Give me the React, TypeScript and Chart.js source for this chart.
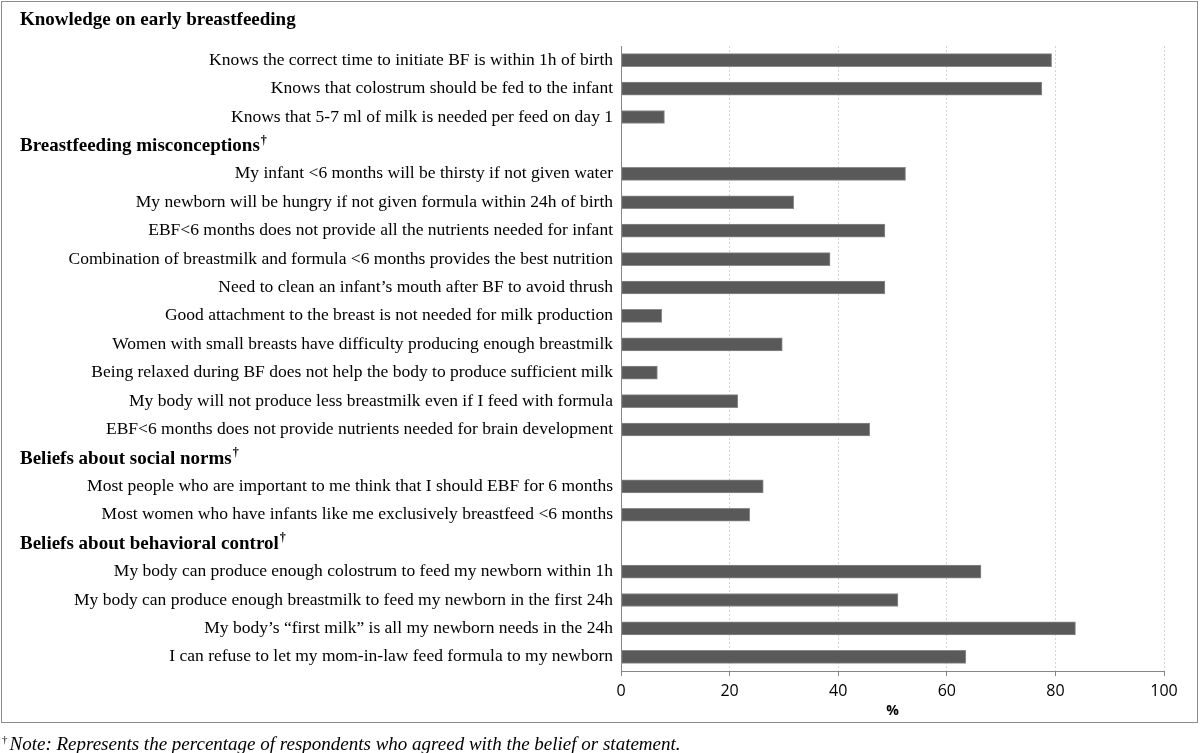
import React, { useEffect, useRef } from "react";
import { Chart, registerables } from "chart.js";

Chart.register(...registerables);

const sectionTitles = [
  "Knowledge on early breastfeeding",
  "Breastfeeding misconceptions",
  "Beliefs about social norms",
  "Beliefs about behavioral control",
];
const sectionDagger = [false, true, true, true];

const knowledgeItems = [
  "Knows the correct time to initiate BF is within 1h of birth",
  "Knows that colostrum should be fed to the infant",
  "Knows that 5-7 ml of milk is needed per feed on day 1",
];
const knowledgeValues = [79.3, 77.5, 8.0];

const misconceptionItems = [
  "My infant <6 months will be thirsty if not given water",
  "My newborn will be hungry if not given formula within 24h of birth",
  "EBF<6 months does not provide all the nutrients needed for infant",
  "Combination of breastmilk and formula <6 months provides the best nutrition",
  "Need to clean an infant\u2019s mouth after BF to avoid thrush",
  "Good attachment to the breast is not needed for milk production",
  "Women with small breasts have difficulty producing enough breastmilk",
  "Being relaxed during BF does not help the body to produce sufficient milk",
  "My body will not produce less breastmilk even if I feed with formula",
  "EBF<6 months does not provide nutrients needed for brain development",
];
const misconceptionValues = [52.4, 31.8, 48.6, 38.5, 48.6, 7.5, 29.7, 6.7, 21.5, 45.8];

const socialItems = [
  "Most people who are important to me think that I should EBF for 6 months",
  "Most women who have infants like me exclusively breastfeed <6 months",
];
const socialValues = [26.2, 23.7];

const controlItems = [
  "My body can produce enough colostrum to feed my newborn within 1h",
  "My body can produce enough breastmilk to feed my newborn in the first 24h",
  "My body\u2019s \u201cfirst milk\u201d is all my newborn needs in the 24h",
  "I can refuse to let my mom-in-law feed formula to my newborn",
];
const controlValues = [66.3, 51.0, 83.7, 63.5];

const xTicks = [0, 20, 40, 60, 80, 100];
const xTitle = "%";
const footnote = "Note: Represents the percentage of respondents who agreed with the belief or statement.";

const sections = [
  { items: knowledgeItems, values: knowledgeValues },
  { items: misconceptionItems, values: misconceptionValues },
  { items: socialItems, values: socialValues },
  { items: controlItems, values: controlValues },
];

// Build rows: section 0 header sits above the plot; later headers take a blank row.
const labels: string[] = [];
const values: (number | null)[] = [];
const headerRows: { title: string; dagger: boolean; row: number }[] = [];
sections.forEach((s, si) => {
  if (si === 0) {
    headerRows.push({ title: sectionTitles[si], dagger: sectionDagger[si], row: -1 });
  } else {
    headerRows.push({ title: sectionTitles[si], dagger: sectionDagger[si], row: labels.length });
    labels.push("");
    values.push(null);
  }
  s.items.forEach((it, i) => {
    labels.push(it);
    values.push(s.values[i]);
  });
});

const SERIF = '"Liberation Serif", "Times New Roman", serif';
const SANS = '"Open Sans", "Noto Sans", sans-serif';

const headerPlugin = {
  id: "sectionHeaders",
  afterDraw(chart: any) {
    const { ctx, chartArea } = chart;
    const yScale = chart.scales.y;
    ctx.save();
    ctx.fillStyle = "#000";
    ctx.textBaseline = "middle";
    ctx.textAlign = "left";
    headerRows.forEach((h) => {
      const y = h.row < 0 ? chartArea.top - 26 : yScale.getPixelForValue(h.row) + 1;
      const x = 20;
      ctx.font = `bold 19px ${SERIF}`;
      ctx.fillText(h.title, x, y);
      if (h.dagger) {
        const w = ctx.measureText(h.title).width;
        ctx.font = `bold 12px ${SERIF}`;
        ctx.fillText("\u2020", x + w + 1, y - 6);
      }
    });
    ctx.restore();
  },
};

export default function App() {
  const ref = useRef<HTMLCanvasElement | null>(null);
  useEffect(() => {
    if (!ref.current) return;
    const chart = new Chart(ref.current, {
      type: "bar",
      data: {
        labels,
        datasets: [
          {
            data: values,
            backgroundColor: "#595959",
            borderColor: "#8a8a8a",
            borderWidth: 1,
            borderSkipped: false,
            barThickness: 13,
          },
        ],
      },
      options: {
        indexAxis: "y",
        responsive: false,
        animation: false,
        devicePixelRatio: 1,
        layout: { padding: { top: 46, right: 36, bottom: 4, left: 0 } },
        plugins: {
          legend: { display: false },
          tooltip: { enabled: false },
        },
        scales: {
          x: {
            type: "linear",
            min: 0,
            max: 100,
            afterBuildTicks(scale: any) {
              scale.ticks = xTicks.map((v) => ({ value: v }));
            },
            afterFit(scale: any) {
              scale.height = 50;
            },
            grid: {
              color: "#d4d4d4",
              tickColor: "#868686",
              tickLength: 5,
              drawTicks: true,
            },
            border: { color: "#868686", width: 1, dash: [2, 2] },
            ticks: {
              color: "#000",
              font: { family: SANS, size: 16 },
              padding: 6,
            },
            title: {
              display: true,
              text: xTitle,
              color: "#000",
              font: { family: SANS, size: 14, weight: "bold" },
              padding: { top: 0, bottom: 2 },
            },
          },
          y: {
            type: "category",
            afterFit(scale: any) {
              scale.width = 621;
            },
            grid: { display: false, drawTicks: false },
            border: { color: "#868686", width: 1 },
            ticks: {
              autoSkip: false,
              color: "#000",
              font: { family: SERIF, size: 17.5 },
              padding: 8,
            },
          },
        },
      },
      plugins: [headerPlugin],
    } as any);
    return () => chart.destroy();
  }, []);

  return (
    <div style={{ position: "fixed", left: 0, top: 0, width: 1200, height: 753, background: "#fff" }}>
      <div
        style={{
          position: "absolute",
          left: 1,
          top: 1,
          width: 1197,
          height: 722,
          boxSizing: "border-box",
          border: "1px solid #8c8c8c",
        }}
      />
      <canvas ref={ref} width={1200} height={725} style={{ position: "absolute", left: 0, top: 0 }} />
      <div
        style={{
          position: "absolute",
          left: 2,
          top: 728,
          fontFamily: SERIF,
          fontStyle: "italic",
          fontSize: 19,
          lineHeight: "22px",
          color: "#000",
          whiteSpace: "nowrap",
        }}
      >
        <span style={{ fontStyle: "normal", fontSize: 11, verticalAlign: "7px" }}>{"\u2020"}</span>
        <span style={{ marginLeft: 2 }}>{footnote}</span>
      </div>
    </div>
  );
}
